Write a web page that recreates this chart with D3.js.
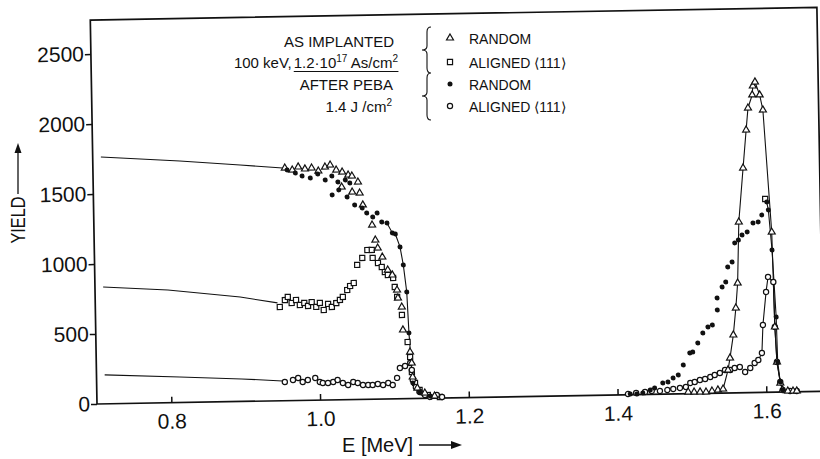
<!DOCTYPE html>
<html>
<head>
<meta charset="utf-8">
<script src="https://cdn.jsdelivr.net/npm/d3@7"></script>
<style>
  body { margin: 0; background: #fff; }
  svg { display: block; }
  text { font-family: "Liberation Sans", Arial, sans-serif; fill: #111; }
</style>
</head>
<body>
<svg id="chart" width="820" height="459"></svg>
<script>
// ---- axis ticks ----
const xTicks = [0.8, 1.0, 1.2, 1.4, 1.6];
const yTicks = [0, 500, 1000, 1500, 2000, 2500];

// ---- spectra: [energy in MeV, yield] ----
// as implanted, random (open triangles)
const randomImplanted = [
  [0.958,1662],[0.968,1647],[0.976,1668],[0.985,1653],[0.994,1659],[1.003,1636],[1.012,1664],
  [1.019,1678],[1.027,1641],[1.034,1519],[1.035,1626],[1.043,1604],[1.048,1596],[1.048,1482],
  [1.056,1553],[1.058,1474],[1.062,1389],[1.074,1244],[1.078,1136],[1.081,1079],[1.087,1014],
  [1.094,921],[1.100,885],[1.106,777],[1.107,719],[1.112,655],[1.113,491],[1.122,332],
  [1.124,254],[1.125,154],[1.131,74],[1.141,38],[1.154,15],
  [1.495,12],[1.503,11],[1.511,11],[1.519,10],[1.527,16],[1.535,23],[1.542,29],[1.549,164],
  [1.552,250],[1.557,414],[1.561,606],[1.564,784],[1.567,1220],[1.574,1605],[1.579,1876],
  [1.582,2033],[1.588,2126],[1.589,2190],[1.592,2218],[1.598,2125],[1.602,2017],[1.611,1144],
  [1.613,466],[1.615,215],[1.619,65],[1.622,14],[1.629,7],[1.636,6],[1.641,6]
];
// as implanted, aligned <111> (open squares)
const alignedImplanted = [
  [0.948,670],[0.955,719],[0.959,741],[0.964,697],[0.970,718],[0.975,682],[0.981,696],
  [0.986,674],[0.991,701],[0.997,666],[1.002,694],[1.007,643],[1.013,686],[1.018,664],
  [1.024,691],[1.029,713],[1.033,734],[1.039,783],[1.043,811],[1.048,832],[1.053,961],
  [1.060,1010],[1.067,1066],[1.073,1066],[1.074,1009],[1.081,972],[1.086,943],[1.090,907],
  [1.094,885],[1.101,863],[1.103,799],[1.106,727],[1.112,598],[1.119,404],[1.122,296],
  [1.124,189],[1.128,111],[1.134,60],[1.145,23],[1.161,7],
  [1.603,1381]
];
// after PEBA, random (filled dots)
const randomPeba = [
  [0.961,1648],[0.972,1625],[0.981,1603],[0.992,1588],[1.002,1615],[1.012,1571],[1.021,1599],
  [1.021,1464],[1.029,1556],[1.030,1499],[1.039,1569],[1.041,1447],[1.045,1547],[1.051,1389],
  [1.061,1367],[1.067,1331],[1.075,1301],[1.081,1329],[1.087,1264],[1.094,1256],[1.101,1185],
  [1.105,1177],[1.111,1084],[1.115,955],[1.119,761],[1.121,469],[1.125,111],[1.134,46],[1.148,16],
  [1.417,5],[1.426,4],[1.434,11],[1.444,31],[1.450,45],[1.461,79],[1.468,86],[1.475,114],
  [1.482,135],[1.489,206],[1.498,290],[1.502,297],[1.509,361],[1.516,432],[1.523,474],
  [1.529,488],[1.536,594],[1.536,680],[1.543,758],[1.548,793],[1.551,900],[1.557,935],
  [1.561,1071],[1.566,1091],[1.571,1127],[1.578,1148],[1.586,1211],[1.593,1218],[1.598,1267],
  [1.605,1359],[1.607,1302],[1.611,1016],[1.615,537],[1.616,215],[1.619,72],[1.622,14]
];
// after PEBA, aligned <111> (open circles)
const alignedPeba = [
  [0.953,134],[0.964,147],[0.971,161],[0.977,131],[0.984,145],[0.994,159],[1.000,129],
  [1.004,122],[1.011,121],[1.018,128],[1.024,141],[1.031,119],[1.038,104],[1.045,125],
  [1.051,117],[1.058,103],[1.065,102],[1.071,101],[1.078,108],[1.085,100],[1.092,114],
  [1.098,99],[1.104,149],[1.108,219],[1.115,233],[1.122,254],[1.124,204],[1.125,132],
  [1.129,81],[1.134,45],[1.141,24],[1.148,9],[1.157,22],[1.164,7],
  [1.414,5],[1.425,11],[1.437,17],[1.446,24],[1.457,23],[1.467,29],[1.475,35],[1.484,42],
  [1.492,48],[1.498,76],[1.504,83],[1.511,96],[1.518,103],[1.525,116],[1.531,130],
  [1.538,144],[1.545,165],[1.552,164],[1.558,178],[1.565,184],[1.572,148],[1.579,176],
  [1.585,211],[1.590,232],[1.595,281],[1.597,481],[1.602,717],[1.605,824],[1.612,787],
  [1.613,466],[1.615,215],[1.619,72],[1.622,15],[1.632,6],[1.641,6]
];
// deeper parts of the spectra, drawn as plain curves
const randomLead = [[0.711,1763],[0.817,1725],[0.898,1689],[0.955,1662]];
const alignedImplantedLead = [[0.711,835],[0.798,805],[0.895,746],[0.945,700]];
const alignedPebaLead = [[0.711,207],[0.812,182],[0.895,161],[0.950,141]];

// ---- text ----
const headerLines = ["AS IMPLANTED", "100 keV,", "AFTER PEBA"];
const legendLabels = ["RANDOM", "ALIGNED \u27E8111\u27E9", "RANDOM", "ALIGNED \u27E8111\u27E9"];
const yTitle = "YIELD";
const xTitle = "E [MeV]";

// ---- layout ----
const svg = d3.select("#chart");
const x = d3.scaleLinear().domain([0.7, 1.677]).range([0, 726.7]);
const y = d3.scaleLinear().domain([0, 2500]).range([0, -350]);
const yMax = 2743;

// the whole plot area sits slightly rotated
const plot = svg.append("g").attr("transform", "translate(97,404) rotate(-1)");

// frame
plot.append("path")
  .attr("d", `M0,0V${y(yMax)}H${x(1.677)}V${y(1080)}`)
  .attr("fill", "none").attr("stroke", "#111").attr("stroke-width", 1.7);
plot.append("line")
  .attr("x1", 0).attr("x2", x(1.677)).attr("y1", 0).attr("y2", 0)
  .attr("stroke", "#111").attr("stroke-width", 1.7);

// axes
const yAxis = plot.append("g")
  .call(d3.axisLeft(y).tickValues(yTicks).tickSize(6).tickPadding(1).tickFormat(d3.format("d")));
const xAxis = plot.append("g")
  .call(d3.axisBottom(x).tickValues(xTicks).tickSize(-6).tickPadding(11).tickFormat(d3.format(".1f")));
[yAxis, xAxis].forEach(g => {
  g.select(".domain").remove();
  g.attr("font-family", null).attr("font-size", null);
  g.selectAll("line").attr("stroke", "#111").attr("stroke-width", 1.5);
  g.selectAll("text").attr("fill", "#111").style("font-size", "21px");
});

// curves
const line = d3.line().x(d => x(d[0])).y(d => y(d[1]));
const curve = (data) => plot.append("path").datum(data).attr("d", line)
  .attr("fill", "none").attr("stroke", "#111").attr("stroke-width", 1.1);

curve(randomLead);
curve(alignedImplantedLead);
curve(alignedPebaLead);
curve(randomImplanted.filter(d => d[0] >= 1.54));
curve(randomPeba.filter(d => d[0] >= 1.09 && d[0] < 1.2));
curve(randomPeba.filter(d => d[0] >= 1.605));
curve(alignedPeba.filter(d => d[0] >= 1.585));

// markers
const tri = d3.symbol(d3.symbolTriangle, 21);
const sq = d3.symbol(d3.symbolSquare, 26);

plot.append("g").selectAll("path").data(alignedImplanted).join("path")
  .attr("d", sq).attr("transform", d => `translate(${x(d[0])},${y(d[1])})`)
  .attr("fill", "#fff").attr("stroke", "#111").attr("stroke-width", 1.2);
plot.append("g").selectAll("circle").data(alignedPeba).join("circle")
  .attr("cx", d => x(d[0])).attr("cy", d => y(d[1])).attr("r", 2.6)
  .attr("fill", "#fff").attr("stroke", "#111").attr("stroke-width", 1.2);
plot.append("g").selectAll("path").data(randomImplanted).join("path")
  .attr("d", tri).attr("transform", d => `translate(${x(d[0])},${y(d[1])})`)
  .attr("fill", "#fff").attr("stroke", "#111").attr("stroke-width", 1.2);
plot.append("g").selectAll("circle").data(randomPeba).join("circle")
  .attr("cx", d => x(d[0])).attr("cy", d => y(d[1])).attr("r", 2.5)
  .attr("fill", "#111");

// ---- axis titles ----
const yt = svg.append("g");
yt.append("text").attr("transform", "translate(25,220) rotate(-90)")
  .attr("text-anchor", "middle").style("font-size", "21px")
  .attr("textLength", 47).attr("lengthAdjust", "spacingAndGlyphs").text(yTitle);
yt.append("line").attr("x1", 18).attr("x2", 18).attr("y1", 194).attr("y2", 151)
  .attr("stroke", "#111").attr("stroke-width", 1.3);
yt.append("path").attr("d", "M18,143L14.5,153L21.5,153Z").attr("fill", "#111");

const xt = svg.append("g");
xt.append("text").attr("x", 342).attr("y", 452).style("font-size", "20px").text(xTitle);
xt.append("line").attr("x1", 419).attr("x2", 452).attr("y1", 445).attr("y2", 445)
  .attr("stroke", "#111").attr("stroke-width", 1.3);
xt.append("path").attr("d", "M462,445L451,441L451,449Z").attr("fill", "#111");

// ---- legend ----
const hdr = svg.append("g").style("font-size", "15px").style("white-space", "pre");
hdr.append("text").attr("x", 394).attr("y", 47).attr("text-anchor", "end").text(headerLines[0]);
const dose = hdr.append("text").attr("x", 398).attr("y", 68).attr("text-anchor", "end");
dose.append("tspan").text("1.2\u00B710");
dose.append("tspan").attr("dy", -6).style("font-size", "10px").text("17");
dose.append("tspan").attr("dy", 6).text(" As/cm");
dose.append("tspan").attr("dy", -6).style("font-size", "10px").text("2");
const bb = dose.node().getBBox();
hdr.append("line").attr("x1", bb.x).attr("x2", bb.x + bb.width).attr("y1", 71.5).attr("y2", 71.5)
  .attr("stroke", "#111").attr("stroke-width", 1.1);
hdr.append("text").attr("x", bb.x - 2).attr("y", 68).attr("text-anchor", "end").text(headerLines[1]);
hdr.append("text").attr("x", 393).attr("y", 90).attr("text-anchor", "end").text(headerLines[2]);
const fluence = hdr.append("text").attr("x", 392).attr("y", 112).attr("text-anchor", "end");
fluence.append("tspan").text("1.4  J  /cm");
fluence.append("tspan").attr("dy", -6).style("font-size", "10px").text("2");

// braces
const brace = (bx, y0, y1, ym) =>
  `M${bx + 4},${y0}Q${bx},${y0} ${bx},${y0 + 5}L${bx},${ym - 4}Q${bx},${ym} ${bx - 5},${ym}` +
  `Q${bx},${ym} ${bx},${ym + 4}L${bx},${y1 - 5}Q${bx},${y1} ${bx + 4},${y1}`;
hdr.append("path").attr("d", brace(427, 27, 73, 50) + brace(427, 73, 120, 96))
  .attr("fill", "none").attr("stroke", "#111").attr("stroke-width", 1.1);

const legendY = [38, 62, 84, 106];
const lg = svg.append("g");
lg.append("path").attr("d", tri).attr("transform", `translate(450,${legendY[0]})`)
  .attr("fill", "#fff").attr("stroke", "#111").attr("stroke-width", 1.2);
lg.append("path").attr("d", sq).attr("transform", `translate(450,${legendY[1]})`)
  .attr("fill", "#fff").attr("stroke", "#111").attr("stroke-width", 1.2);
lg.append("circle").attr("cx", 450).attr("cy", legendY[2]).attr("r", 2.5).attr("fill", "#111");
lg.append("circle").attr("cx", 450).attr("cy", legendY[3]).attr("r", 2.6)
  .attr("fill", "#fff").attr("stroke", "#111").attr("stroke-width", 1.2);
lg.selectAll("text").data(legendLabels).join("text")
  .attr("x", 469).attr("y", (d, i) => legendY[i] + 6).style("font-size", "14px").text(d => d);
</script>
</body>
</html>
